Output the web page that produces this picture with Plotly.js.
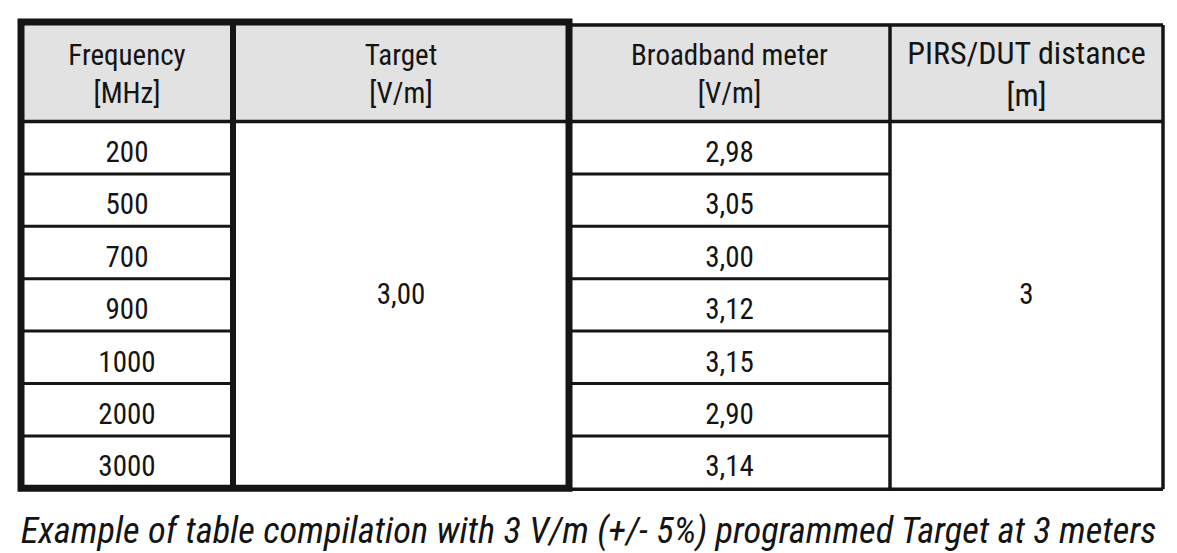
<!DOCTYPE html>
<html>
<head>
<meta charset="utf-8">
<script src="https://cdn.plot.ly/plotly-3.0.1.min.js"></script>
<style>html,body{margin:0;padding:0;background:#fff;}#chart{width:1177px;height:553px;}</style>
</head>
<body>
<div id="chart"></div>
<script>
// ---- data ----
const headers = ['Frequency<br>[MHz]', 'Target<br>[V/m]', 'Broadband meter<br>[V/m]', 'PIRS/DUT distance<br>[m]'];
const frequencies = [200, 500, 700, 900, 1000, 2000, 3000];
const targetValue = 3.00;
const broadbandValues = [2.98, 3.05, 3.00, 3.12, 3.15, 2.90, 3.14];
const distanceValue = 3;
const caption = 'Example of table compilation with 3 V/m (+/- 5%) programmed Target at 3 meters';

// ---- layout geometry / style ----
const W = 1177, H = 553;
const colEdges = [21, 233, 569, 890, 1163];
const headTop = 23, headBottom = 121.5, rowH = 52.4;
const FONT = 'Roboto Condensed, Liberation Sans Narrow, DejaVu Sans Condensed, sans-serif';
const headerSizes = [29, 29, 29, 32];
const fmt = (v, d) => v.toFixed(d).replace('.', ',');
const nRows = frequencies.length;
const bodyBottom = headBottom + nRows * rowH;
const colCenter = i => (colEdges[i] + colEdges[i + 1]) / 2;
const rowCenter = i => headBottom + (i + 0.5) * rowH + 7;
const TXT = '#141414';

const traces = [];
// header labels
traces.push({
  type: 'scatter', mode: 'text', hoverinfo: 'skip', showlegend: false,
  x: headers.map((_, i) => colCenter(i)),
  y: headers.map(() => 77),
  text: headers,
  textposition: 'middle center',
  textfont: {family: FONT, size: headerSizes, color: TXT}
});
// frequency column
traces.push({
  type: 'scatter', mode: 'text', hoverinfo: 'skip', showlegend: false,
  x: frequencies.map(() => colCenter(0)),
  y: frequencies.map((_, i) => rowCenter(i)),
  text: frequencies.map(String),
  textposition: 'middle center',
  textfont: {family: FONT, size: 29, color: TXT}
});
// broadband column
traces.push({
  type: 'scatter', mode: 'text', hoverinfo: 'skip', showlegend: false,
  x: broadbandValues.map(() => colCenter(2)),
  y: broadbandValues.map((_, i) => rowCenter(i)),
  text: broadbandValues.map(v => fmt(v, 2)),
  textposition: 'middle center',
  textfont: {family: FONT, size: 29, color: TXT}
});
// merged cells
traces.push({
  type: 'scatter', mode: 'text', hoverinfo: 'skip', showlegend: false,
  x: [colCenter(1), colCenter(3)],
  y: [(headBottom + bodyBottom) / 2 - 8, (headBottom + bodyBottom) / 2 - 8],
  text: [fmt(targetValue, 2), String(distanceValue)],
  textposition: 'middle center',
  textfont: {family: FONT, size: 29, color: TXT}
});

const shapes = [];
const line = (x0, y0, x1, y1, w) => shapes.push({type: 'line', xref: 'x', yref: 'y', x0, y0, x1, y1, line: {color: '#151515', width: w}});
// header fill
shapes.push({type: 'rect', xref: 'x', yref: 'y', x0: colEdges[0], x1: colEdges[4], y0: headTop, y1: headBottom, fillcolor: '#e2e2e2', line: {width: 0}, layer: 'below'});
// right table frame (thin)
line(colEdges[2], headTop + 2, colEdges[4], headTop + 2, 3.5);
line(colEdges[2], bodyBottom + 1, colEdges[4], bodyBottom + 1, 3.5);
line(colEdges[4], headTop + 2, colEdges[4], bodyBottom + 1, 3.5);
line(colEdges[3], headTop + 2, colEdges[3], bodyBottom + 1, 3.5);
line(colEdges[0], headBottom, colEdges[4], headBottom, 3.5);
// row separators in non-merged columns
for (let i = 1; i < nRows; i++) {
  const y = headBottom + i * rowH;
  line(colEdges[0], y, colEdges[1], y, 3);
  line(colEdges[2], y, colEdges[3], y, 3);
}
// thick frame left block
line(colEdges[1], headTop, colEdges[1], bodyBottom, 6);
shapes.push({type: 'rect', xref: 'x', yref: 'y', x0: colEdges[0], x1: colEdges[2], y0: headTop - 1, y1: bodyBottom, line: {color: '#151515', width: 7}});

const layout = {
  width: W, height: H,
  margin: {l: 0, r: 0, t: 0, b: 0},
  paper_bgcolor: '#fff', plot_bgcolor: '#fff',
  xaxis: {range: [0, W], visible: false, fixedrange: true},
  yaxis: {range: [H, 0], visible: false, fixedrange: true},
  shapes: shapes,
  title: {
    text: caption, x: 0.5, xanchor: 'center', y: 1 - 530 / H, yanchor: 'middle', yref: 'container',
    font: {family: FONT, size: 36.5, style: 'italic', color: TXT}
  },
  showlegend: false
};
Plotly.newPlot('chart', traces, layout, {staticPlot: true, displayModeBar: false});
</script>
</body>
</html>
